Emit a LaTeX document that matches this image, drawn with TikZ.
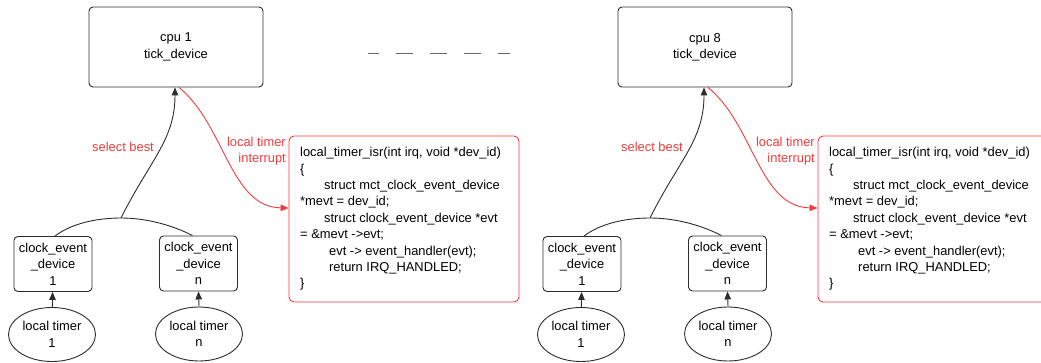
\documentclass[tikz,border=0pt]{standalone}
\usepackage{fontspec}
\setmainfont{Liberation Sans}
\usetikzlibrary{arrows.meta,shapes.geometric}
\definecolor{myred}{RGB}{240,60,60}
\definecolor{myline}{RGB}{45,45,45}
\tikzset{
  txt/.style={font=\fontsize{12.9}{16.4}\selectfont, align=center},
  cpubox/.style={draw=myline, line width=0.9pt, rounded corners=4pt, minimum width=174pt, minimum height=80pt, inner sep=0pt, txt},
  cedbox/.style={draw=myline, line width=0.9pt, rounded corners=4pt, minimum width=78pt, minimum height=55pt, inner sep=0pt, txt},
  timer/.style={draw=myline, line width=0.9pt, ellipse, minimum width=87pt, minimum height=54pt, inner sep=0pt, txt},
  codebox/.style={draw=myred, line width=0.9pt, rounded corners=5pt, minimum width=230pt, minimum height=166pt, inner sep=0pt},
  codetxt/.style={font=\fontsize{12.9}{16.4}\selectfont, align=left, inner sep=0pt, anchor=west},
  lbl/.style={text=myred, font=\fontsize{12.9}{16.2}\selectfont, inner sep=0pt},
  blk/.style={draw=myline, line width=0.9pt},
  tip/.style={-{Triangle[length=8pt,width=6.5pt]}},
}
\begin{document}
\begin{tikzpicture}[x=1pt,y=-1pt]
\useasboundingbox (0,0) rectangle (1041,363);
\clip (0,0) rectangle (1041,363);
\foreach \o/\c/\s in {0/1/a,529/8/b}{
  \begin{scope}[xshift=\o pt]
    \node[cpubox] (cpu\s) at (176,47) {cpu \c\\tick\_device};
    \node[cedbox] (ca\s) at (53,264) {clock\_event\\\_device\\1};
    \node[cedbox] (cn\s) at (198.5,263.5) {clock\_event\\\_device\\n};
    \node[timer] (ta\s) at (52,334.5) {local timer\\1};
    \node[timer] (tn\s) at (199,334) {local timer\\n};
    \node[codebox] (box\s) at (404,219) {};
    \node[codetxt] (code\s) at (300,219) {local\_timer\_isr(int irq, void *dev\_id)\\
\{\\
\hspace*{24pt}struct mct\_clock\_event\_device\\
*mevt = dev\_id;\\
\hspace*{24pt}struct clock\_event\_device *evt\\
= \&mevt ->evt;\\
\hspace*{29pt}evt -> event\_handler(evt);\\
\hspace*{29pt}return IRQ\_HANDLED;\\
\}};
    \coordinate (top\s) at (121,218);
    \node[lbl] (sel\s) at (123,147) {select best};
    \node[lbl, align=right, anchor=east] (irq\s) at (286,151) {local timer\\interrupt};
    \draw[blk,tip] (ta\s) -- (ca\s);
    \draw[blk,tip] (tn\s.north) -- (cn\s.south);
    \draw[blk] ([xshift=2pt]ca\s.north) .. controls (72,223) and (98,218) .. (top\s)
       .. controls (146,218) and (172,225) .. ([xshift=-6pt]cn\s.north);
    \draw[blk,tip] (top\s) .. controls (150,160) and (175,140) .. ([xshift=-1pt]cpu\s.south);
    \draw[draw=myred, line width=0.9pt, -{Triangle[length=8pt,width=6.5pt]}]
       ([xshift=3pt]cpu\s.south) .. controls (225,125) and (230,207) .. ([yshift=11pt]box\s.west);
  \end{scope}
}
\coordinate (d1) at (368,53);
\coordinate (d2) at (510,53);
\draw[draw=black!60, line width=0.9pt, dash pattern=on 17pt off 17pt, dash phase=6pt] (d1) -- (d2);
\end{tikzpicture}
\end{document}
